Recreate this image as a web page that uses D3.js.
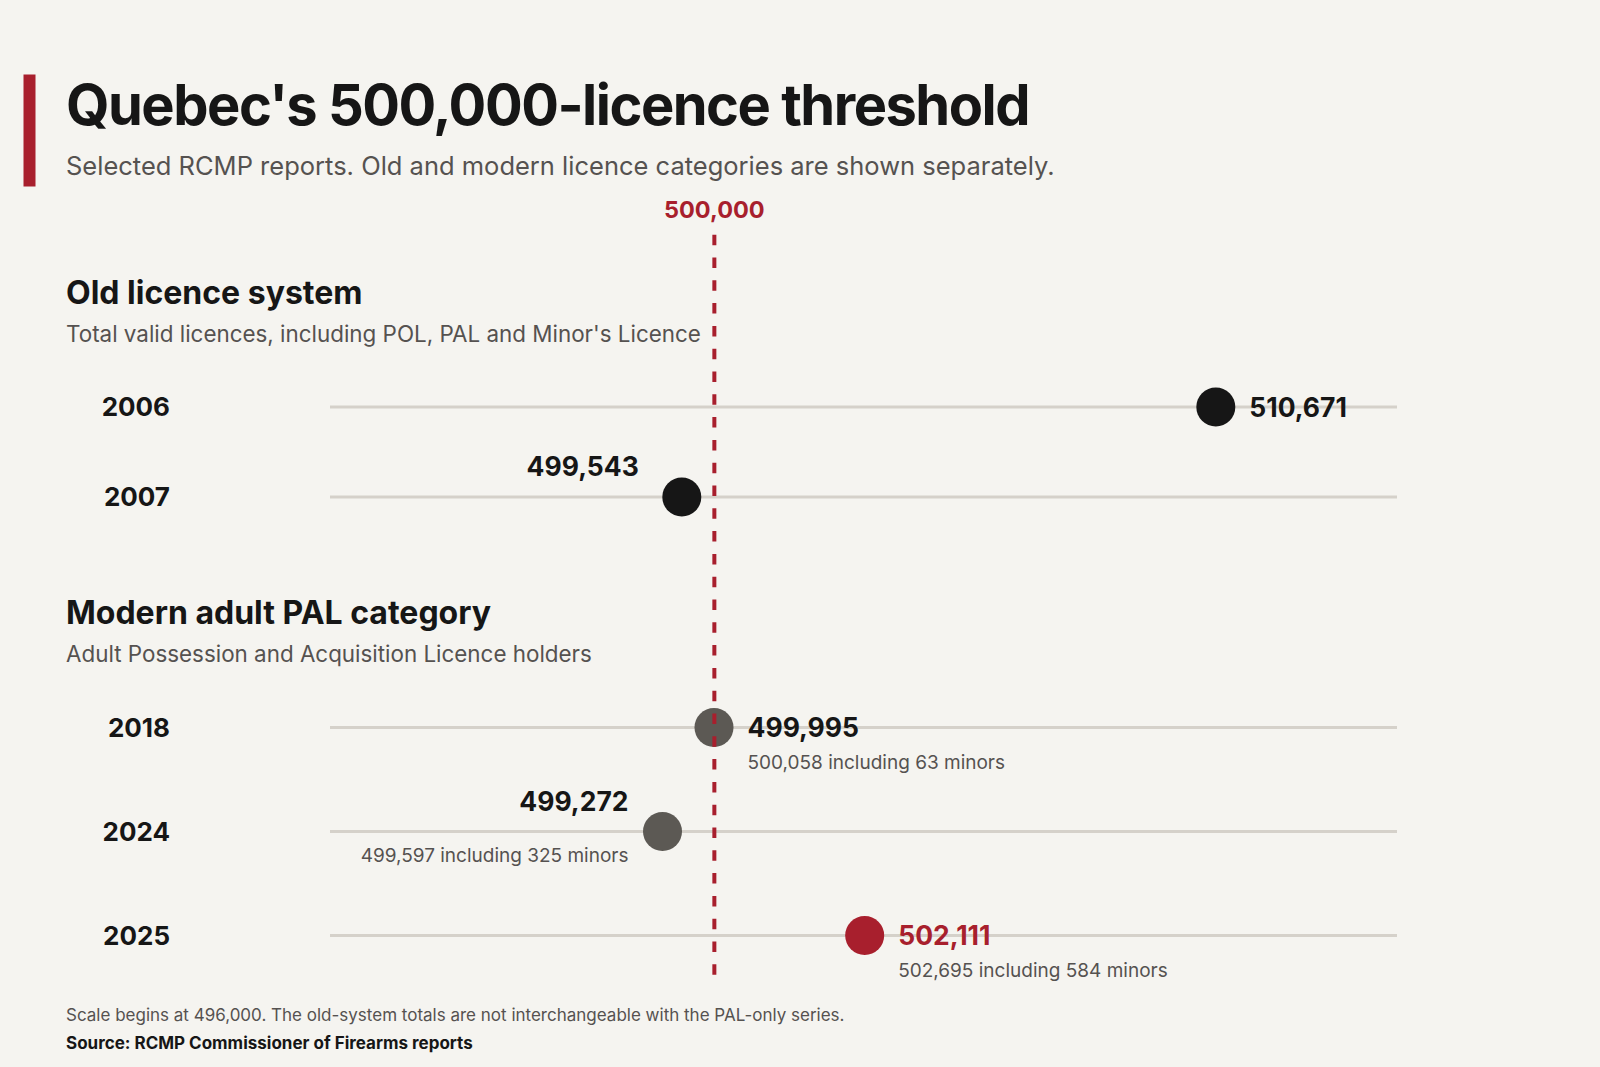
<!DOCTYPE html>
<html>
<head>
<meta charset="utf-8">
<script src="https://cdn.jsdelivr.net/npm/d3@7"></script>
<style>
  html, body { margin: 0; padding: 0; background: #f5f4f0; }
  svg { display: block; font-family: Inter, "Noto Sans", sans-serif; }
</style>
</head>
<body>
<svg id="chart"></svg>
<script>
// Chart values
const oldYears = ['2006', '2007'];
const oldValues = [510671, 499543];

const modernYears = ['2018', '2024', '2025'];
const modernValues = [499995, 499272, 502111];
const modernWithMinors = [500058, 499597, 502695];
const modernMinors = [63, 325, 584];

const threshold = 500000;
const scaleStart = 496000;

// Canvas
const width = 1600;
const height = 1067;
const trackLeft = 330;
const trackRight = 1397;
const r = 19.5;

const colors = {
    bg: '#f5f4f0',
    ink: '#161616',
    grey: '#5c5954',
    red: '#a81f2d',
    track: '#d5d1ca',
    sub: '#555250'
};

const svg = d3.select('#chart')
    .attr('width', width)
    .attr('height', height);

svg.append('rect')
    .attr('width', width)
    .attr('height', height)
    .attr('fill', colors.bg);

// x scale: linear up to 503,000, compressed beyond
const xScale = d3.scaleLinear()
    .domain([scaleStart, 503000, 515500])
    .range([429.5, 928, trackRight]);

// y scales for the two groups
const yOld = d3.scalePoint()
    .domain(oldYears)
    .range([407, 497]);

const yModern = d3.scalePoint()
    .domain(modernYears)
    .range([727.5, 935.5]);

const fmt = d3.format(',');

// Header
svg.append('rect')
    .attr('x', 23.5)
    .attr('y', 74.5)
    .attr('width', 12)
    .attr('height', 112)
    .attr('fill', colors.red);

svg.append('text')
    .attr('x', 66)
    .attr('y', 125)
    .attr('font-size', 56)
    .attr('font-weight', 700)
    .attr('letter-spacing', -1.5)
    .attr('fill', colors.ink)
    .text("Quebec's 500,000-licence threshold");

svg.append('text')
    .attr('x', 66)
    .attr('y', 174.5)
    .attr('font-size', 25.5)
    .attr('fill', colors.sub)
    .text('Selected RCMP reports. Old and modern licence categories are shown separately.');

// Section headings
function sectionHeading(y, title, sub) {
    svg.append('text')
        .attr('x', 66)
        .attr('y', y)
        .attr('font-size', 32)
        .attr('font-weight', 700)
        .attr('fill', colors.ink)
        .text(title);
    svg.append('text')
        .attr('x', 66)
        .attr('y', y + 38)
        .attr('font-size', 22.4)
        .attr('fill', colors.sub)
        .text(sub);
}

sectionHeading(304, 'Old licence system', "Total valid licences, including POL, PAL and Minor's Licence");
sectionHeading(623.5, 'Modern adult PAL category', 'Adult Possession and Acquisition Licence holders');

// Rows
const oldRows = oldYears.map((year, i) => ({ year, value: oldValues[i], y: yOld(year), color: colors.ink }));
const modernRows = modernYears.map((year, i) => ({
    year,
    value: modernValues[i],
    total: modernWithMinors[i],
    minors: modernMinors[i],
    y: yModern(year),
    color: year === '2025' ? colors.red : colors.grey
}));
const rows = oldRows.concat(modernRows);

// label layout: rows whose value sits above-left, and how far from the dot centre
const labelLeft = { '2007': 43, '2024': 34 };

const rowG = svg.selectAll('.row')
    .data(rows)
    .enter()
    .append('g')
    .attr('class', 'row');

rowG.append('line')
    .attr('x1', trackLeft)
    .attr('x2', trackRight)
    .attr('y1', d => d.y)
    .attr('y2', d => d.y)
    .attr('stroke', colors.track)
    .attr('stroke-width', 3);

rowG.append('text')
    .attr('x', 170)
    .attr('y', d => d.y)
    .attr('dy', '0.35em')
    .attr('text-anchor', 'end')
    .attr('font-size', 26)
    .attr('font-weight', 700)
    .attr('fill', colors.ink)
    .text(d => d.year);

// Threshold line
svg.append('line')
    .attr('x1', xScale(threshold))
    .attr('x2', xScale(threshold))
    .attr('y1', 234.7)
    .attr('y2', 975)
    .attr('stroke', colors.red)
    .attr('stroke-width', 4)
    .attr('stroke-dasharray', '10.5,12.3');

svg.append('text')
    .attr('x', xScale(threshold))
    .attr('y', 218)
    .attr('text-anchor', 'middle')
    .attr('font-size', 23.5)
    .attr('font-weight', 700)
    .attr('fill', colors.red)
    .text(fmt(threshold));

// Dots
rowG.append('circle')
    .attr('cx', d => xScale(d.value))
    .attr('cy', d => d.y)
    .attr('r', r)
    .attr('fill', d => d.color);

// Value labels
rowG.append('text')
    .attr('x', d => labelLeft[d.year] ? xScale(d.value) - labelLeft[d.year] : xScale(d.value) + r + 14)
    .attr('y', d => labelLeft[d.year] ? d.y - 21 : d.y + 9.5)
    .attr('text-anchor', d => labelLeft[d.year] ? 'end' : 'start')
    .attr('font-size', 26.5)
    .attr('font-weight', 700)
    .attr('fill', d => d.year === '2025' ? colors.red : colors.ink)
    .text(d => fmt(d.value));

rowG.filter(d => d.total)
    .append('text')
    .attr('x', d => labelLeft[d.year] ? xScale(d.value) - labelLeft[d.year] : xScale(d.value) + r + 14)
    .attr('y', d => labelLeft[d.year] ? d.y + 30.5 : d.y + 41)
    .attr('text-anchor', d => labelLeft[d.year] ? 'end' : 'start')
    .attr('font-size', 19)
    .attr('fill', colors.sub)
    .text(d => `${fmt(d.total)} including ${d.minors} minors`);

// Footer
svg.append('text')
    .attr('x', 66)
    .attr('y', 1021)
    .attr('font-size', 17)
    .attr('fill', colors.sub)
    .text(`Scale begins at ${fmt(scaleStart)}. The old-system totals are not interchangeable with the PAL-only series.`);

svg.append('text')
    .attr('x', 66)
    .attr('y', 1049)
    .attr('font-size', 17)
    .attr('font-weight', 700)
    .attr('fill', colors.ink)
    .text('Source: RCMP Commissioner of Firearms reports');
</script>
</body>
</html>
